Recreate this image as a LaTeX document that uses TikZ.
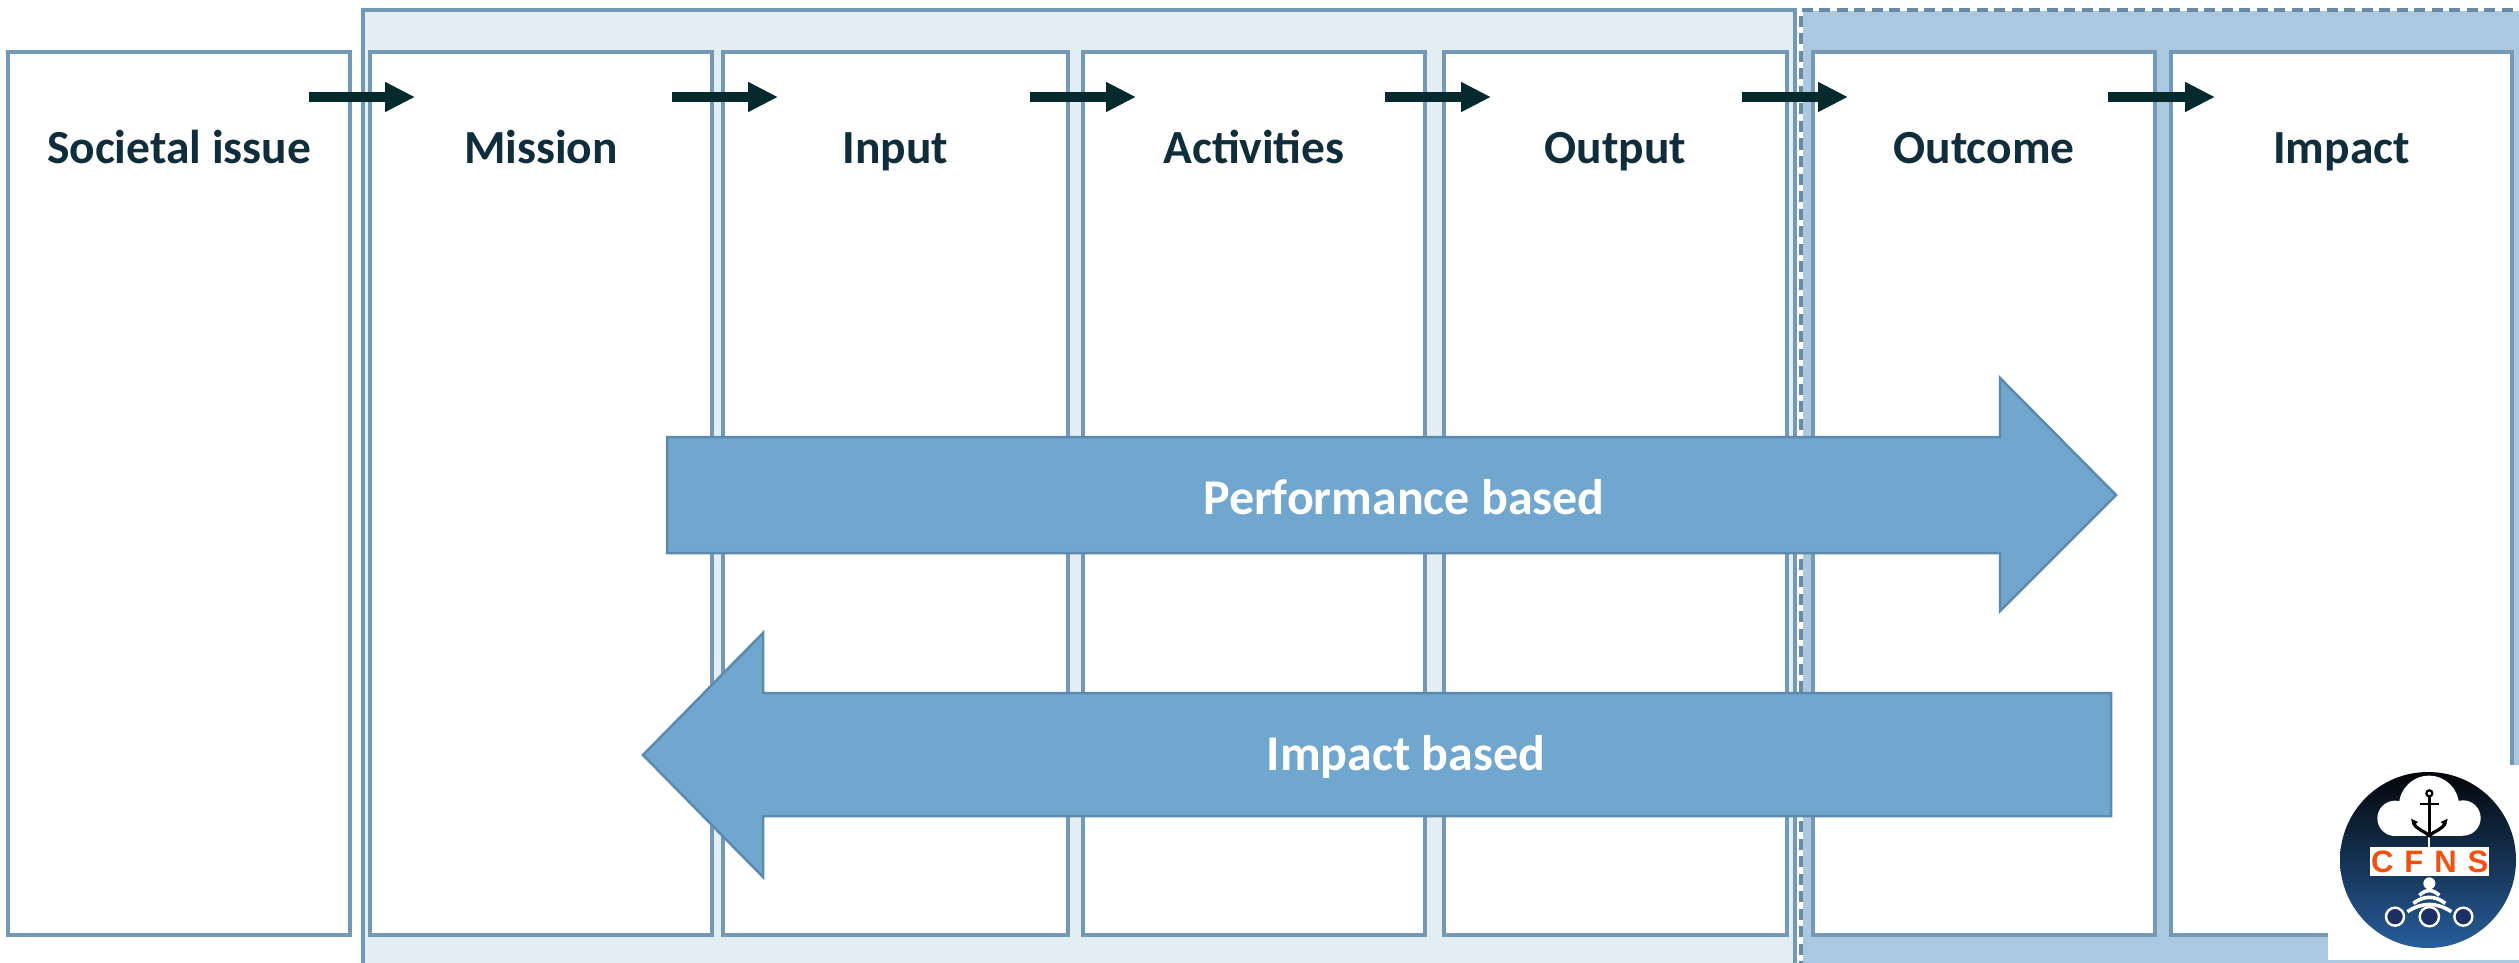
\documentclass[tikz,border=0pt]{standalone}
\usepackage{fontspec}
\setmainfont{Carlito}
\newfontfamily\logofont{Liberation Sans}
\usetikzlibrary{arrows.meta,calc}
\definecolor{edgeblue}{HTML}{7499B6}
\definecolor{lightband}{HTML}{E3EDF4}
\definecolor{midband}{HTML}{ABC8E1}
\definecolor{bigfill}{HTML}{71A7CF}
\definecolor{bigedge}{HTML}{5C8AAE}
\definecolor{inktext}{HTML}{0F2D3B}
\definecolor{inkarrow}{HTML}{052A2E}
\definecolor{logotop}{HTML}{03060A}
\definecolor{logobot}{HTML}{275E9A}
\definecolor{logored}{HTML}{F2500F}
\definecolor{logonavy}{HTML}{1C2E63}
\tikzset{
  x=1pt,y=-1pt,
  stagebox/.style={draw=edgeblue,fill=white,line width=3.6pt,inner sep=0pt,outer sep=0pt},
  stagelabel/.style={anchor=base,text=inktext,font=\fontsize{47.5}{50}\selectfont\bfseries,inner sep=0pt},
  biglabel/.style={text=white,font=\fontsize{50}{52}\selectfont\bfseries,inner sep=0pt},
  flowarrow/.style={draw=inkarrow,line width=10pt,-{Triangle[length=30pt,width=28pt,inset=0pt]}},
  bigarrow/.style={draw=bigedge,fill=bigfill,line width=2.5pt,line join=miter},
  signalarc/.style={draw=white,line width=3.6pt},
}
\begin{document}
\begin{tikzpicture}
\useasboundingbox (0,0) rectangle (2519,963);
\clip (0,0) rectangle (2519,963);
% bands
\fill[lightband] (363,10) rectangle (1795,975);
\draw[edgeblue,line width=3.4pt] (363,975) -- (363,10) -- (1795,10) -- (1795,975);
\fill[midband] (1803,11) rectangle (2530,975);
\draw[edgeblue!90!black,line width=3.4pt,dash pattern=on 11pt off 6.5pt] (2530,10) -- (1801,10) -- (1801,975);
% stages
\node[stagebox,minimum width=342pt,minimum height=883pt,anchor=north west] (soc) at (8,52) {};
\node[stagebox,minimum width=342pt,minimum height=883pt,anchor=north west] (mis) at (370,52) {};
\node[stagebox,minimum width=345pt,minimum height=883pt,anchor=north west] (inp) at (723,52) {};
\node[stagebox,minimum width=342pt,minimum height=883pt,anchor=north west] (act) at (1083,52) {};
\node[stagebox,minimum width=343pt,minimum height=883pt,anchor=north west] (oup) at (1444,52) {};
\node[stagebox,minimum width=342pt,minimum height=883pt,anchor=north west] (ouc) at (1813,52) {};
\node[stagebox,minimum width=341pt,minimum height=883pt,anchor=north west] (imp) at (2171,52) {};
\foreach \n/\t in {soc/Societal issue,mis/Mission,inp/Input,act/Activities,oup/Output,ouc/Outcome,imp/Impact}{
  \node[stagelabel] (\n txt) at ($(\n.north)+(0,112)$) {\t};
}
% flow arrows
\foreach \k/\a/\b in {1/309/415,2/672/778,3/1030/1136,4/1385/1491,5/1742/1848,6/2108/2215}{
  \coordinate (f\k a) at (\a,97);
  \coordinate (f\k b) at (\b,97);
  \draw[flowarrow] (f\k a) -- (f\k b);
}
% big arrows
\draw[bigarrow] (667,437) -- (2000,437) -- (2000,378) -- (2116,495) -- (2000,611) -- (2000,553) -- (667,553) -- cycle;
\draw[bigarrow] (2111,693) -- (763,693) -- (763,633) -- (643,755) -- (763,877) -- (763,816) -- (2111,816) -- cycle;
\node[biglabel] (perf) at (1404,497) {Performance based};
\node[biglabel] (impb) at (1406,757) {Impact based};
% logo patch
\fill[white] (2328,765) rectangle (2530,960);
\begin{scope}[shift={(2260,740)},scale=1/3]
  \shade[top color=logotop,bottom color=logobot] (504,360) circle[radius=264];
  % cloud
  \fill[white] (507,197) circle[radius=90];
  \fill[white] (405,235) circle[radius=53];
  \fill[white] (609,234) circle[radius=53];
  \fill[white] (405,230) -- (609,230) -- (609,288) -- (405,288) -- cycle;
  % stem
  \draw[white,line width=2pt] (508,280) -- (508,322);
  % anchor
  \draw[black,line width=2.2pt] (508,160) circle[radius=9];
  \draw[black,line width=3.4pt] (508,169) -- (508,282);
  \draw[black,line width=2.6pt] (480,192) -- (537,192);
  \draw[black,line width=3.2pt] (460,247) .. controls (468,270) and (495,273) .. (508,287) .. controls (521,273) and (548,270) .. (556,247);
  \fill[black] (453,236) -- (474,246) -- (459,258) -- cycle;
  \fill[black] (563,236) -- (542,246) -- (557,258) -- cycle;
  % label
  \node[fill=white,minimum width=119pt,minimum height=29.5pt,inner sep=0pt,text=logored,
        font=\logofont\fontsize{31}{31}\selectfont\bfseries] (cfns) at (509,364) {\spaceskip=11pt C F N S};
  % signal
  \fill[white] (508,430) circle[radius=18];
  \draw[signalarc] (478,466) .. controls (498,447) and (518,447) .. (538,466);
  \draw[signalarc] (460,490) .. controls (492,466) and (524,466) .. (556,490);
  \draw[signalarc] (442,515) .. controls (487,486) and (529,486) .. (574,515);
  % nodes
  \foreach \cx/\r in {405/27,508/29,610/27}{
    \fill[logonavy,draw=white,line width=2.4pt] (\cx,530) circle[radius=\r];
  }
\end{scope}
\end{tikzpicture}
\end{document}
